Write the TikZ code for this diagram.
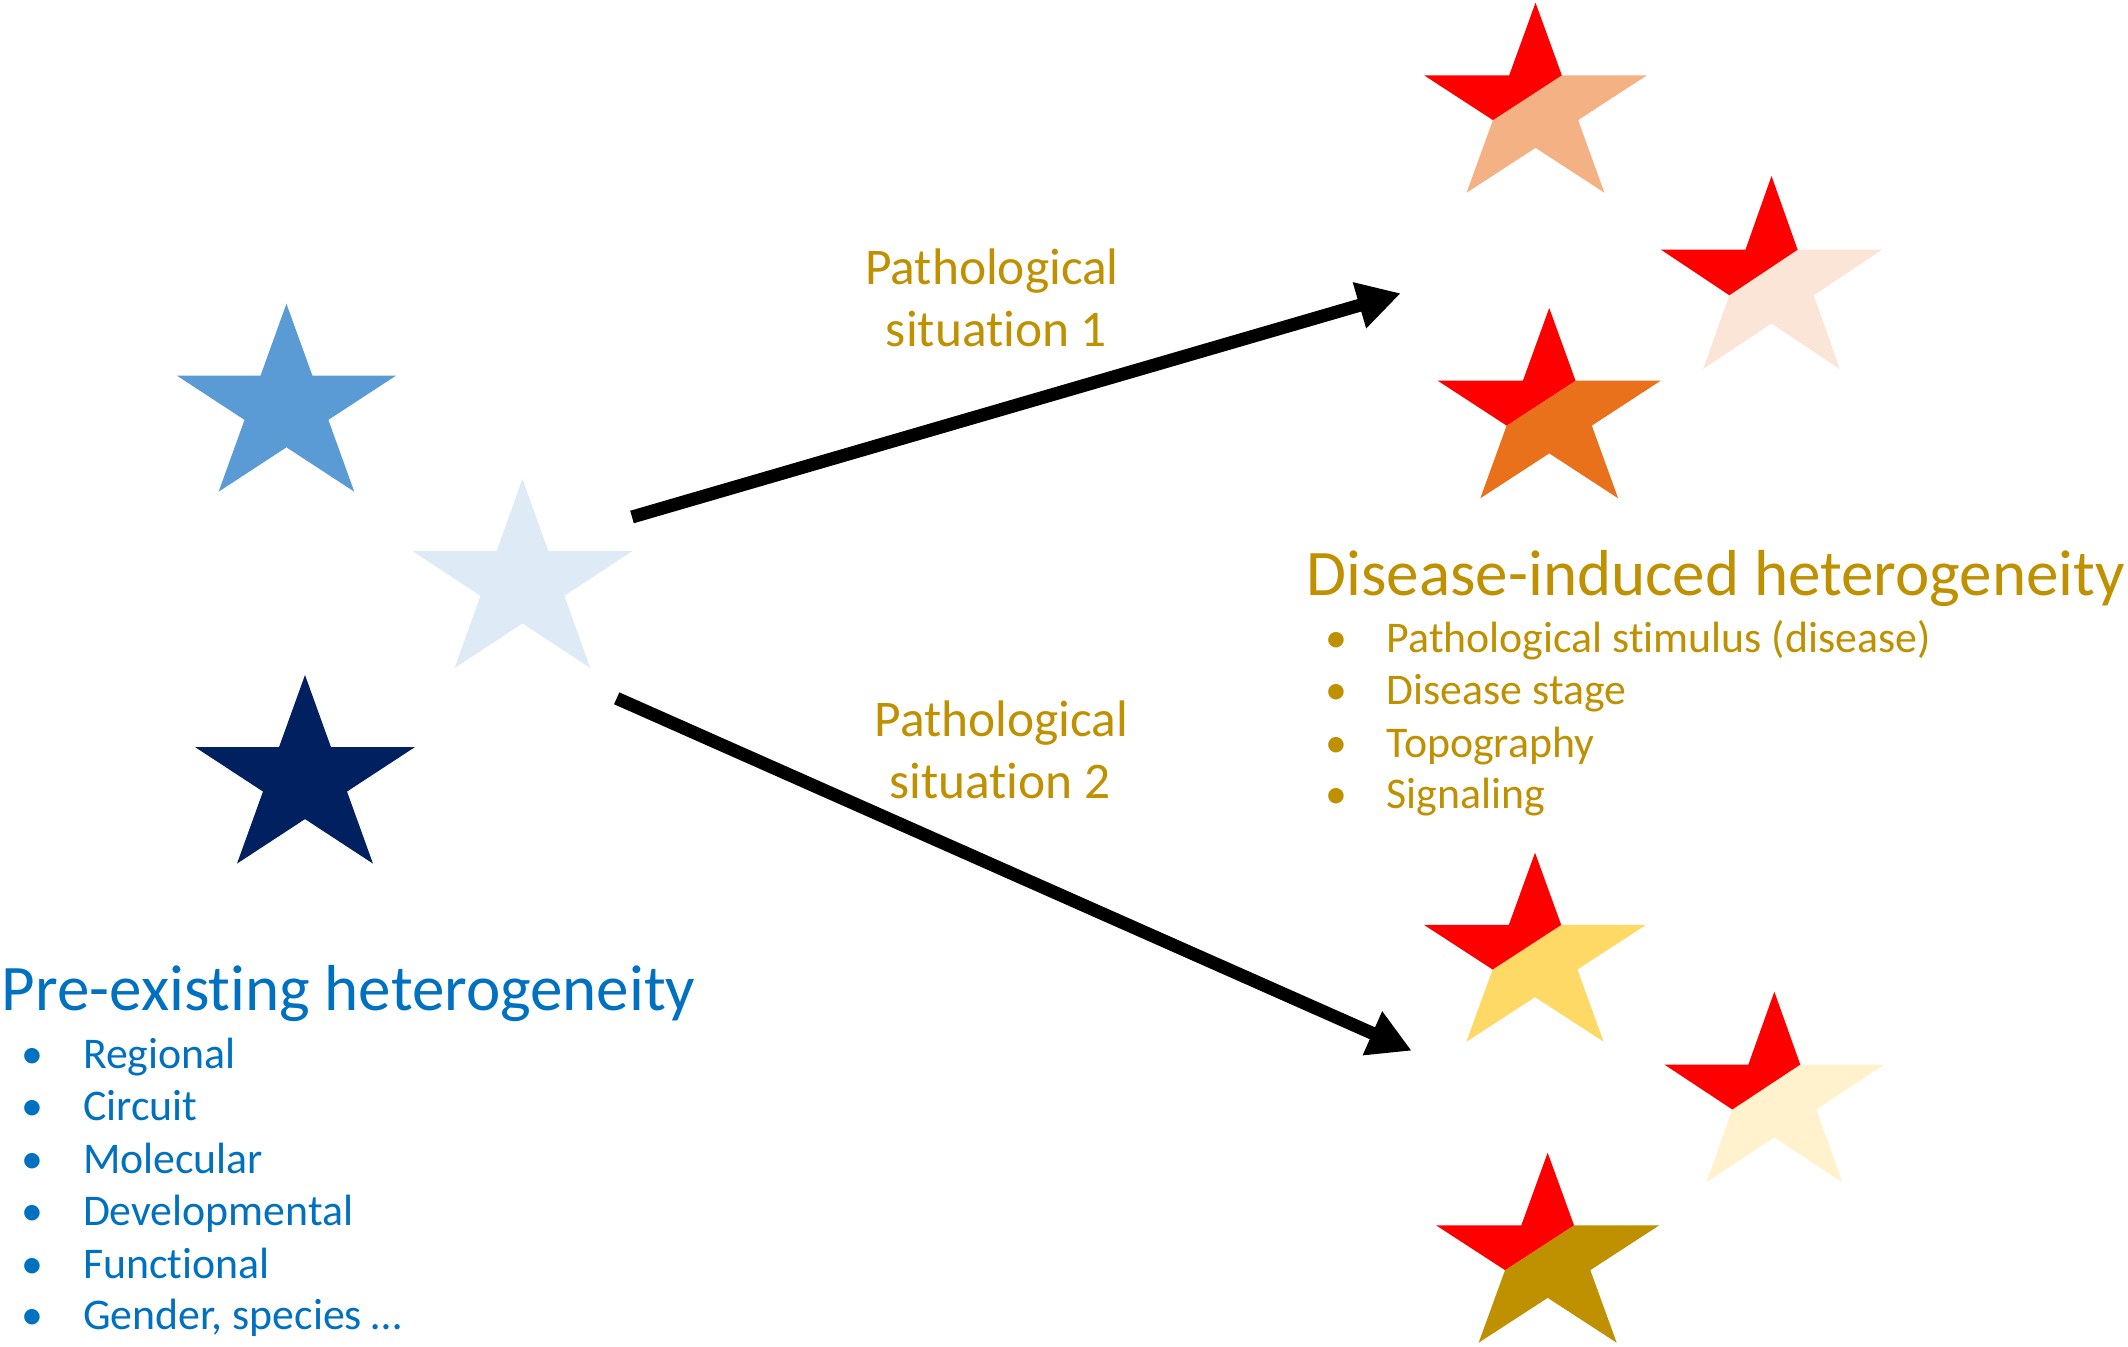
\documentclass[tikz,border=0pt]{standalone}
\usepackage{fontspec}
\setmainfont{Carlito}[Ligatures=NoCommon,RawFeature={-liga;-clig}]
\usetikzlibrary{arrows.meta}
\definecolor{pblue}{HTML}{0070C0}
\definecolor{pgold}{HTML}{BF9000}
\definecolor{starmid}{HTML}{5B9BD5}
\definecolor{starlight}{HTML}{DEEBF7}
\definecolor{starnavy}{HTML}{002060}
\definecolor{starred}{HTML}{FF0000}
\definecolor{lowA}{HTML}{F4B183}
\definecolor{lowB}{HTML}{FBE5D6}
\definecolor{lowC}{HTML}{E9711C}
\definecolor{lowD}{HTML}{FFD966}
\definecolor{lowE}{HTML}{FFF2CC}
\definecolor{lowF}{HTML}{BF9000}
% full star: x0 y0 W H colour (bounding box top-left, size)
\newcommand{\wholestar}[5]{%
  \fill[#5,shift={(#1,#2)},xscale=#3,yscale=#4]
    (0.5,0) -- (0.618,0.382) -- (1,0.382) -- (0.691,0.618) -- (0.809,1)
    -- (0.5,0.764) -- (0.191,1) -- (0.309,0.618) -- (0,0.382) -- (0.382,0.382) -- cycle;}
% two-tone star: red upper-left part, coloured lower part
\newcommand{\splitstar}[5]{%
  \fill[#5,shift={(#1,#2)},xscale=#3,yscale=#4]
    (0.618,0.382) -- (1,0.382) -- (0.691,0.618) -- (0.809,1)
    -- (0.5,0.764) -- (0.191,1) -- (0.309,0.618) -- cycle;
  \fill[starred,shift={(#1,#2)},xscale=#3,yscale=#4]
    (0.618,0.382) -- (0.5,0) -- (0.382,0.382) -- (0,0.382) -- (0.309,0.618) -- cycle;}
\begin{document}
\begin{tikzpicture}[x=0.5pt,y=-0.5pt,
  bigtitle/.style={font=\fontsize{32.5pt}{39pt}\selectfont, inner sep=0pt, outer sep=0pt, anchor=base west},
  itemtext/.style={font=\fontsize{21.9pt}{26pt}\selectfont, inner sep=0pt, outer sep=0pt, anchor=base west},
  itemdot/.style={font=\fontsize{21.9pt}{26pt}\selectfont, inner sep=0pt, outer sep=0pt, anchor=base},
  arrowlabel/.style={font=\fontsize{25.7pt}{31pt}\selectfont, text=pgold, inner sep=0pt, outer sep=0pt, anchor=base},
  bigarrow/.style={line width=6.5pt, -{Triangle[length=21.5pt,width=22.5pt]}}]
\useasboundingbox (0,0) rectangle (2128,1347);
\fill[white] (0,0) rectangle (2128,1347);

% blue stars
\wholestar{176.7}{303.7}{219.5}{188}{starmid}
\wholestar{412.7}{479}{219.5}{189}{starlight}
\wholestar{195}{675}{220}{188.6}{starnavy}

% red stars
\splitstar{1424}{2.7}{223}{190}{lowA}
\splitstar{1661}{176}{221}{193}{lowB}
\splitstar{1437.7}{308}{223}{190.3}{lowC}
\splitstar{1424}{852.7}{222}{189}{lowD}
\splitstar{1664.3}{991.7}{220}{190.6}{lowE}
\splitstar{1436}{1152.7}{223.3}{190}{lowF}

% arrows
\coordinate (a1s) at (632,517);
\coordinate (a1e) at (1400.7,293.3);
\coordinate (a2s) at (616.7,698.3);
\coordinate (a2e) at (1411.7,1050.7);
\draw[bigarrow] (a1s) -- (a1e);
\draw[bigarrow] (a2s) -- (a2e);

% arrow labels
\node[arrowlabel] (l1a) at (992,285) {Pathological};
\node[arrowlabel] (l1b) at (996.5,346.7) {situation 1};
\node[arrowlabel] (l2a) at (1001.3,736.7) {Pathological};
\node[arrowlabel] (l2b) at (1000,798) {situation 2};

% pre-existing heterogeneity
\node[bigtitle,text=pblue] (t1) at (2,1010) {Pre-existing heterogeneity};
\foreach \n/\yy/\txt in {1/1068/Regional,2/1120/Circuit,3/1173/Molecular,4/1225.7/Developmental,5/1278/Functional,6/1329/{Gender, species …}}{
  \node[itemdot,text=pblue] (bd\n) at (32,\yy) {•};
  \node[itemtext,text=pblue] (bt\n) at (83,\yy) {\txt};
}

% disease-induced heterogeneity
\node[bigtitle,text=pgold] (t2) at (1306.7,595) {Disease-induced heterogeneity};
\foreach \n/\yy/\txt in {1/652.7/{Pathological stimulus (disease)},2/704/Disease stage,3/757.7/Topography,4/808/Signaling}{
  \node[itemdot,text=pgold] (gd\n) at (1336.7,\yy) {•};
  \node[itemtext,text=pgold] (gt\n) at (1386.7,\yy) {\txt};
}
\end{tikzpicture}
\end{document}
